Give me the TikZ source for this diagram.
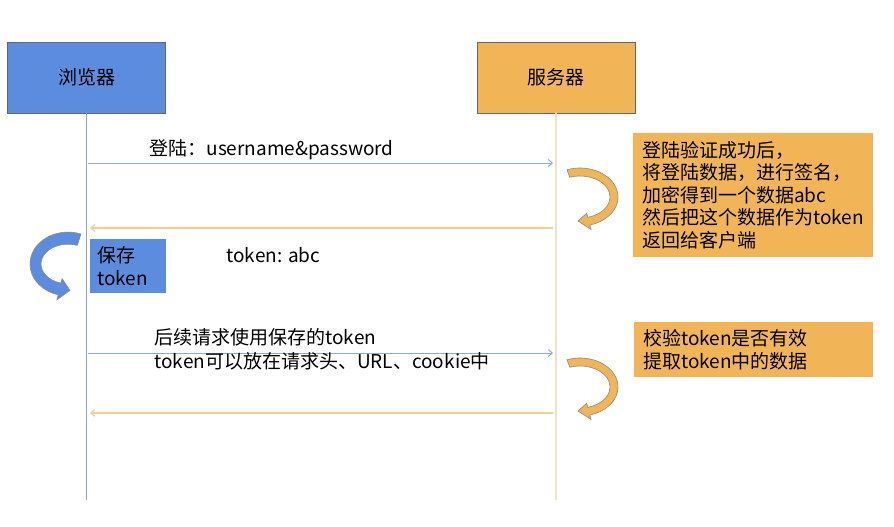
\documentclass[tikz,border=0pt]{standalone}
\usepackage{fontspec}
\setmainfont{Noto Sans CJK SC}
\usepackage{xcolor}
\usetikzlibrary{arrows.meta}
\definecolor{boxblue}{RGB}{91,140,222}
\definecolor{boxorange}{RGB}{241,180,86}
\definecolor{lifeblue}{RGB}{140,162,205}
\definecolor{lifeorange}{RGB}{246,224,192}
\definecolor{msgblue}{RGB}{143,170,220}
\definecolor{msgorange}{RGB}{248,205,145}
\newcommand\fsz{\fontsize{19}{22.5}\selectfont}
\tikzset{
    actor/.style={draw=black!60, minimum width=158pt, minimum height=71pt},
    note/.style={fill=boxorange, anchor=north west, align=left, inner xsep=9pt},
    reqarrow/.style={msgblue, line width=1pt, -{Straight Barb[length=4pt,width=7pt]}},
    resarrow/.style={msgorange, line width=1.2pt, -{Straight Barb[length=4pt,width=7pt]}},
    turn/.pic={
        \path[pic actions] (-110:38 and 29) arc[start angle=-110,end angle=75,x radius=38,y radius=29]
            -- ++(1.2,4.5) -- (-2,24) -- ($(75:{38-#1} and {29-#1})+(-1.1,-4.1)$) -- (75:{38-#1} and {29-#1})
            arc[start angle=75,end angle=-110,x radius={38-#1},y radius={29-#1}] -- cycle;
    }
}
\usetikzlibrary{calc}
\begin{document}
\begin{tikzpicture}[x=1pt, y=-1pt, font=\fsz]
    \useasboundingbox[fill=white] (0,0) rectangle (894,527);
        \node[actor, fill=boxblue] (browser) at (86.5,77.5) {浏览器};
        \node[actor, fill=boxorange] (server) at (556,77.5) {服务器};
        \coordinate (bend) at (86.5,500);
        \coordinate (send) at (556,500);
        \draw[lifeblue, line width=1.5pt] (browser.south) -- (bend);
        \draw[lifeorange, line width=1.5pt] (server.south) -- (send);
        \coordinate (b1) at (88,163);   \coordinate (s1) at (553,163);
        \coordinate (b2) at (90,228);   \coordinate (s2) at (553,228);
        \coordinate (b3) at (88,353);   \coordinate (s3) at (553,353);
        \coordinate (b4) at (90,413);   \coordinate (s4) at (553,413);
        \draw[reqarrow] (b1) -- (s1);
        \draw[resarrow] (s2) -- (b2);
        \draw[reqarrow] (b3) -- (s3);
        \draw[resarrow] (s4) -- (b4);
        \node[anchor=west] (login) at (146,150) {登陆：username\&password};
        \node[anchor=west] (tokenabc) at (223,255) {token: abc};
        \node[anchor=north west, align=left] (follow) at (151,325) {后续请求使用保存的token\\[1.5pt]token可以放在请求头、URL、cookie中};
        \node[anchor=north west, fill=boxblue, text width=62pt, minimum height=54pt, inner xsep=7pt, align=left] (save) at (90,239) {保存\\token};
        \node[note, text width=222pt, minimum height=124pt] (sign) at (633,133) {登陆验证成功后，\\将登陆数据，进行签名，\\加密得到一个数据abc\\然后把这个数据作为token\\返回给客户端};
        \node[note, text width=221pt, minimum height=55pt] (check) at (634,322) {校验token是否有效\\提取token中的数据};
        \pic[fill=boxorange, draw=black!45, line width=0.6pt] at (580,197) {turn=8};
        \pic[fill=boxorange, draw=black!45, line width=0.6pt] at (580,387) {turn=8};
        \pic[fill=boxblue, draw=black!45, line width=0.6pt, xscale=-1, yscale=1.1] at (68,264) {turn=11};
\end{tikzpicture}
\end{document}
